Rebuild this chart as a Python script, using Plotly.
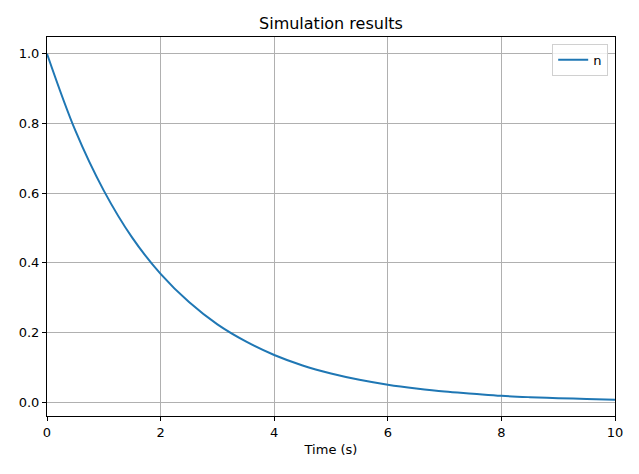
import plotly.graph_objects as go

time_s = [0, 0.5, 1, 1.5, 2, 2.5, 3, 3.5, 4, 4.5, 5, 5.5, 6, 6.5, 7, 7.5, 8, 8.5, 9, 9.5, 10]
n_values = [1.000, 0.779, 0.607, 0.472, 0.368, 0.287, 0.223, 0.174, 0.135, 0.105, 0.082,
            0.064, 0.050, 0.039, 0.030, 0.024, 0.018, 0.014, 0.011, 0.009, 0.007]
x_ticks = [0, 2, 4, 6, 8, 10]
y_ticks = [0.0, 0.2, 0.4, 0.6, 0.8, 1.0]
y_tick_labels = ["0.0", "0.2", "0.4", "0.6", "0.8", "1.0"]

font = "DejaVu Sans"
fig = go.Figure()
fig.add_trace(go.Scatter(x=time_s, y=n_values, mode="lines", name="n",
                         line=dict(color="#1f77b4", width=2, shape="spline")))

axis_common = dict(showline=True, linecolor="black", linewidth=1, mirror=True,
                   showgrid=True, gridcolor="#b0b0b0", gridwidth=1,
                   ticks="outside", ticklen=4, tickcolor="black", zeroline=False,
                   tickfont=dict(family=font, size=13, color="black"))

# page body adds an 8px offset, so the figure is 8px smaller on each side
W, H = 631, 466
fig.update_layout(
    width=W, height=H,
    paper_bgcolor="white", plot_bgcolor="white",
    margin=dict(l=39, r=24, t=29, b=58),
    title=dict(text="Simulation results", x=(8 + 39 + 284 - 8) / W, xanchor="center",
               y=1 - 15 / H, yanchor="middle",
               font=dict(family=font, size=16, color="black")),
    xaxis=dict(range=[0, 10], tickvals=x_ticks,
               title=dict(text="Time (s)", font=dict(family=font, size=13, color="black"), standoff=6),
               **axis_common),
    yaxis=dict(range=[-0.04, 1.048], tickvals=y_ticks, ticktext=y_tick_labels, **axis_common),
    legend=dict(x=0.988, y=0.982, xanchor="right", yanchor="top",
                bordercolor="#d0d0d0", borderwidth=1, bgcolor="rgba(255,255,255,0.8)",
                font=dict(family=font, size=13, color="black")),
    showlegend=True,
)

fig.write_html("out.html")
